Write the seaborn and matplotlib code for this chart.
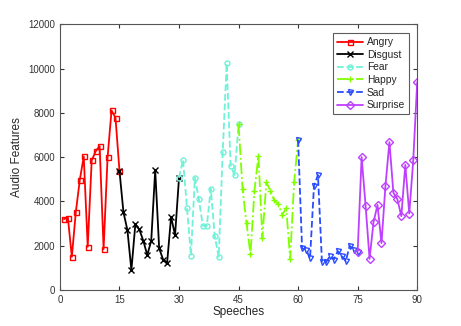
import pandas as pd
import matplotlib
matplotlib.use("Agg")
import matplotlib.pyplot as plt
import seaborn as sns

# values (each emotion block shares its first point with the previous block's last)
angry_x = list(range(1, 16))
angry = [3200, 3270, 1490, 3510, 4960, 6030, 1945, 5850, 6260, 6500, 1840, 5985, 8110, 7780, 5380]
disgust_x = list(range(15, 31))
disgust = [5380, 3510, 2700, 890, 2970, 2730, 2220, 1570, 2220, 5410, 1870, 1370, 1220, 3300, 2470, 5065]
fear_x = list(range(30, 46))
fear = [5065, 5880, 3710, 1550, 5065, 4100, 2895, 2895, 4570, 2430, 1490, 6210, 10240, 5610, 5190, 7480]
happy_x = list(range(45, 61))
happy = [7480, 4570, 3000, 1610, 4480, 6060, 2350, 4870, 4480, 4040, 3890, 3400, 3690, 1400, 4885, 6770]
sad_x = list(range(60, 76))
sad = [6770, 1870, 1820, 1420, 4700, 5190, 1270, 1240, 1520, 1370, 1750, 1520, 1300, 1990, 1820, 1720]
surprise_x = list(range(75, 91))
surprise = [1720, 6000, 3800, 1400, 3060, 3840, 2110, 4700, 6680, 4390, 4100, 3330, 5650, 3450, 5850, 9390]

series = [
    ("Angry", angry_x, angry, "#ff0000", "s", "-"),
    ("Disgust", disgust_x, disgust, "#000000", "x", "-"),
    ("Fear", fear_x, fear, "#6ff2d8", "o", "--"),
    ("Happy", happy_x, happy, "#7fff00", "+", "-."),
    ("Sad", sad_x, sad, "#2a4cff", "v", "--"),
    ("Surprise", surprise_x, surprise, "#bf3fff", "D", "-"),
]

sns.set_style("ticks")
plt.rcParams['font.family'] = ['Liberation Sans', 'DejaVu Sans']

fig = plt.figure(figsize=(4.61, 3.26), dpi=100)
ax = fig.add_axes([0.130, 0.111, 0.775, 0.814])

for name, xs, ys, col, mk, ls in series:
    df = pd.DataFrame({"x": xs, "y": ys})
    sns.lineplot(data=df, x="x", y="y", ax=ax, color=col, linestyle=ls, linewidth=1.3,
                 marker=mk, markersize=3.6 if mk not in ("x", "+") else 4.2,
                 markerfacecolor="none", markeredgecolor=col, markeredgewidth=1.0,
                 label=name)

ax.set_xlim(0, 90)
ax.set_ylim(0, 12000)
ax.set_xticks(range(0, 91, 15))
ax.set_yticks(range(0, 12001, 2000))
ax.tick_params(direction="in", length=3, labelsize=7, colors="#333333", top=True, right=True)
for s in ax.spines.values():
    s.set_color("#555555")
    s.set_linewidth(0.8)
ax.set_xlabel("Speeches", fontsize=8.5, labelpad=1)
ax.set_ylabel("Audio Features", fontsize=8.5, labelpad=4)

leg = ax.legend(loc="upper right", bbox_to_anchor=(0.977, 0.967), borderaxespad=0, fontsize=7.4,
                frameon=True, fancybox=False, edgecolor="#333333", handlelength=2.5,
                labelspacing=0.25, borderpad=0.4, handletextpad=0.4)
leg.get_frame().set_linewidth(0.8)

fig.savefig("out.png", dpi=100)
